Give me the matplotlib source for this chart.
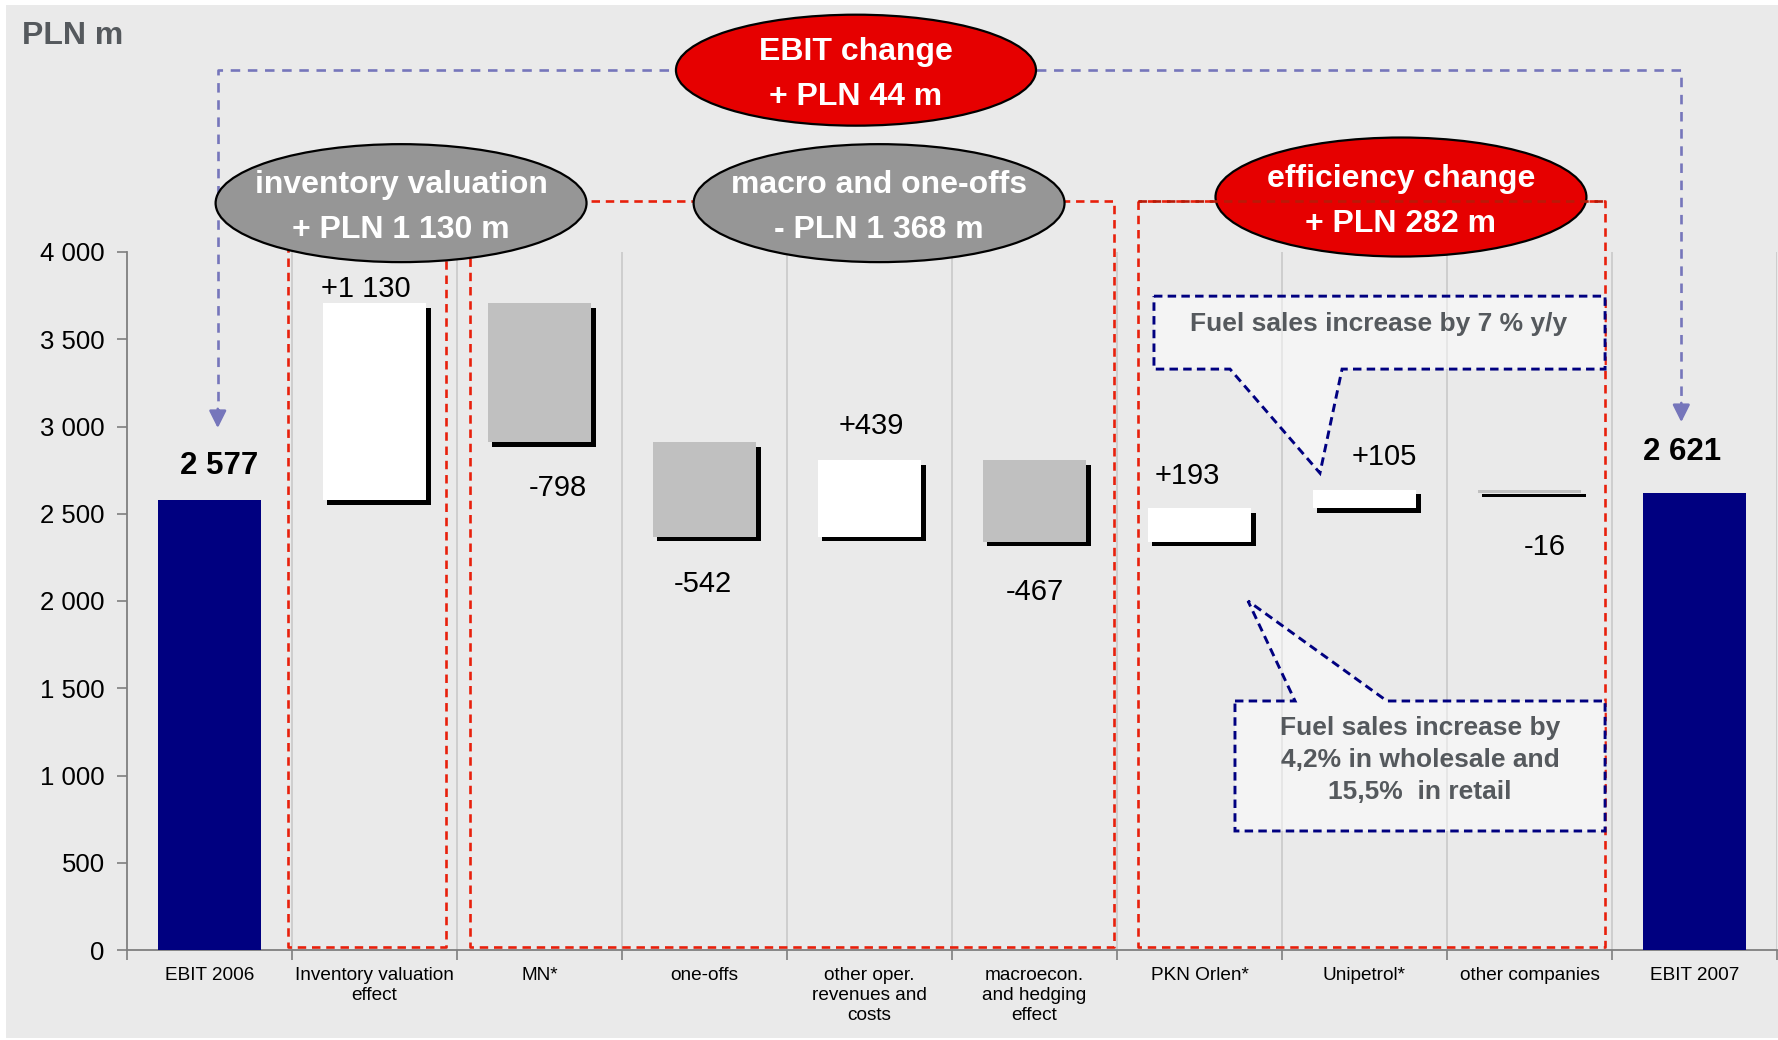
import matplotlib
matplotlib.use("Agg")
import matplotlib.pyplot as plt
from matplotlib.patches import Ellipse, Polygon, Rectangle
from matplotlib.transforms import ScaledTranslation
import numpy as np

# ---------------- data ----------------
categories = ["EBIT 2006", "Inventory valuation\neffect", "MN*", "one-offs",
              "other oper.\nrevenues and\ncosts", "macroecon.\nand hedging\neffect",
              "PKN Orlen*", "Unipetrol*", "other companies", "EBIT 2007"]
start_total = 2577
changes = [1130, -798, -542, 439, -467, 193, 105, -16]
end_total = 2621
y_ticks = [0, 500, 1000, 1500, 2000, 2500, 3000, 3500, 4000]
y_tick_labels = ["0", "500", "1 000", "1 500", "2 000", "2 500", "3 000", "3 500", "4 000"]
bubble_titles = ["EBIT change", "inventory valuation", "macro and one-offs", "efficiency change"]
bubble_values = ["+ PLN 44 m", "+ PLN 1 130 m", "- PLN 1 368 m", "+ PLN 282 m"]
callout_top = "Fuel sales increase by 7 % y/y"
callout_bottom = "Fuel sales increase by\n4,2% in wholesale and\n15,5%  in retail"
unit_label = "PLN m"

# ---------------- style ----------------
plt.rcParams["font.family"] = ["Liberation Sans", "DejaVu Sans"]
W, H = 1778, 1040
BG = "#eaeaea"
NAVY = "#000080"
GREYBAR = "#c0c0c0"
RED = "#e8200c"
BLUE = "#7676bb"
TXTGREY = "#55595d"

def fmt(v, sign=True):
    s = f"{abs(v):,}".replace(",", " ")
    if not sign:
        return s
    return ("+" if v > 0 else "-") + s

fig = plt.figure(figsize=(W / 100, H / 100), dpi=100)
fig.patch.set_facecolor("white")
fig.add_artist(Rectangle((6 / W, 2 / H), (W - 6) / W, 1033 / H,
                         transform=fig.transFigure, facecolor=BG, edgecolor="none", zorder=0))

ax = fig.add_axes([127 / W, 90 / H, 1650 / W, 698 / H])
ax.set_facecolor("none")
n = len(categories)
x = np.arange(n)
ax.set_xlim(-0.5, n - 0.5)
ax.set_ylim(0, 4000)

# vertical separators
for b in np.arange(0.5, n, 1.0):
    ax.plot([b, b], [0, 4000], color="#c6c6c6", lw=1.1, zorder=1)

# ---------------- waterfall ----------------
levels = start_total + np.cumsum(changes)
prev = np.concatenate([[start_total], levels[:-1]])
bottoms = np.minimum(prev, levels)
heights = np.abs(changes)
colors = ["white" if c > 0 else GREYBAR for c in changes]
bw = 0.63
shadow = ax.bar(x[1:-1], heights, bottom=bottoms, width=bw, color="black", zorder=3)
off = ScaledTranslation(0.045, -0.045, fig.dpi_scale_trans)
for p in shadow:
    p.set_transform(ax.transData + off)
ax.bar(x[1:-1], heights, bottom=bottoms, width=bw, color=colors, zorder=4)
ax.bar([x[0], x[-1]], [start_total, end_total], width=bw, color=NAVY, zorder=4)

# value labels (offsets in points: dx, dy)
label_offsets = [(-6.5, 10.5), (13, -33), (-1.5, -34), (1.5, 25), (0, -36), (-9, 23), (14, 24), (11, -39)]
for i, c in enumerate(changes):
    xi = x[i + 1]
    yref = max(prev[i], levels[i]) if c > 0 else min(prev[i], levels[i])
    dx, dy = label_offsets[i]
    ax.annotate(fmt(c), (xi, yref), xytext=(dx, dy), textcoords="offset points",
                ha="center", va="center", fontsize=21, color="black", zorder=8,
                annotation_clip=False)
ax.annotate(fmt(start_total, False), (x[0], start_total), xytext=(7, 25), textcoords="offset points",
            ha="center", va="center", fontsize=22.5, fontweight="bold", zorder=8)
ax.annotate(fmt(end_total, False), (x[-1], end_total), xytext=(-9, 29), textcoords="offset points",
            ha="center", va="center", fontsize=22.5, fontweight="bold", zorder=8)

# ---------------- axes styling ----------------
for s in ["top", "right"]:
    ax.spines[s].set_visible(False)
for s in ["left", "bottom"]:
    ax.spines[s].set_color("#7f7f7f")
    ax.spines[s].set_linewidth(1.3)
ax.set_yticks(y_ticks, y_tick_labels, fontsize=18.5)
ax.tick_params(axis="y", length=7, width=1.2, color="#7f7f7f", pad=9)
ax.set_xticks(x, categories, fontsize=13.7, linespacing=1.24)
ax.set_xticks(np.arange(-0.5, n, 1.0), minor=True)
ax.tick_params(axis="x", which="major", length=0, pad=12)
ax.tick_params(axis="x", which="minor", length=7, width=1.2, color="#7f7f7f")
for t in ax.get_xticklabels():
    t.set_verticalalignment("top")

# ---------------- decorations ----------------
red_dash = (0, (3.2, 2.2))
boxes = [(0.476, 1.433), (1.579, 5.482), (5.627, 8.458)]
box_top, box_bot = 4292, 18
for i, (x0, x1) in enumerate(boxes):
    ax.plot([x0, x0, x1, x1, x0], [box_top, box_bot, box_bot, box_top, box_top],
            color=RED, lw=1.9, linestyle=red_dash, clip_on=False, zorder=2)

# blue EBIT connector
xl, xr, yline = 0.05, 8.92, 5042
tip_l, tip_r = 2991, 3025
blue_dash = (0, (3.6, 2.9))
ax.plot([xl, xl, xr, xr], [tip_l + 60, yline, yline, tip_r + 60], color=BLUE, lw=1.9,
        linestyle=blue_dash, clip_on=False, zorder=2)
for xa, ya in [(xl, tip_l), (xr, tip_r)]:
    ax.annotate("", xy=(xa, ya), xytext=(xa, ya + 110), annotation_clip=False,
                arrowprops=dict(arrowstyle="-|>", color=BLUE, lw=1.9, mutation_scale=26,
                                shrinkA=0, shrinkB=0), zorder=2)

# bubbles
bubble_geom = [(3.918, 5042, 2.182, 636, "#e60000"),
               (1.161, 4280, 2.248, 676, "#969696"),
               (4.058, 4280, 2.248, 676, "#969696"),
               (7.221, 4315, 2.248, 682, "#e60000")]
ells = []
for (cx, cy, w, h, fc), t1, t2 in zip(bubble_geom, bubble_titles, bubble_values):
    e = Ellipse((cx, cy), w, h, facecolor=fc, edgecolor="black", lw=1.6, clip_on=False, zorder=5)
    ax.add_patch(e)
    ells.append(e)
    ax.text(cx, cy + 104, t1, ha="center", va="center", fontsize=23, fontweight="bold",
            color="white", zorder=6, clip_on=False)
    ax.text(cx, cy - 156, t2, ha="center", va="center", fontsize=23, fontweight="bold",
            color="white", zorder=6, clip_on=False)
# efficiency box top line seen through bubble
ln, = ax.plot([boxes[2][0], boxes[2][1]], [box_top, box_top], color="#b81a08", lw=1.9,
              linestyle=red_dash, clip_on=False, zorder=5.5)
ln.set_clip_path(ells[3])

# callouts
c1 = [(5.724, 3747), (8.458, 3747), (8.458, 3329), (6.864, 3329), (6.73, 2733),
      (6.185, 3329), (5.724, 3329)]
c2 = [(6.215, 1427), (6.579, 1427), (6.294, 2000), (7.136, 1427), (8.458, 1427),
      (8.458, 682), (6.215, 682)]
for pts in (c1, c2):
    ax.add_patch(Polygon(pts, closed=True, facecolor=(1, 1, 1, 0.5), edgecolor=NAVY, lw=2.1,
                         linestyle=(0, (2.9, 1.8)), clip_on=False, zorder=6))
ax.text(7.088, 3587, callout_top, ha="center", va="center", fontsize=19, fontweight="bold",
        color=TXTGREY, zorder=7)
ax.text(7.336, 1089, callout_bottom, ha="center", va="center", fontsize=19, fontweight="bold",
        color=TXTGREY, linespacing=1.42, zorder=7)

fig.text(22 / W, 1 - 36 / H, unit_label, ha="left", va="center", fontsize=23,
         fontweight="bold", color=TXTGREY)

fig.savefig("out.png", dpi=100, facecolor=fig.get_facecolor())
